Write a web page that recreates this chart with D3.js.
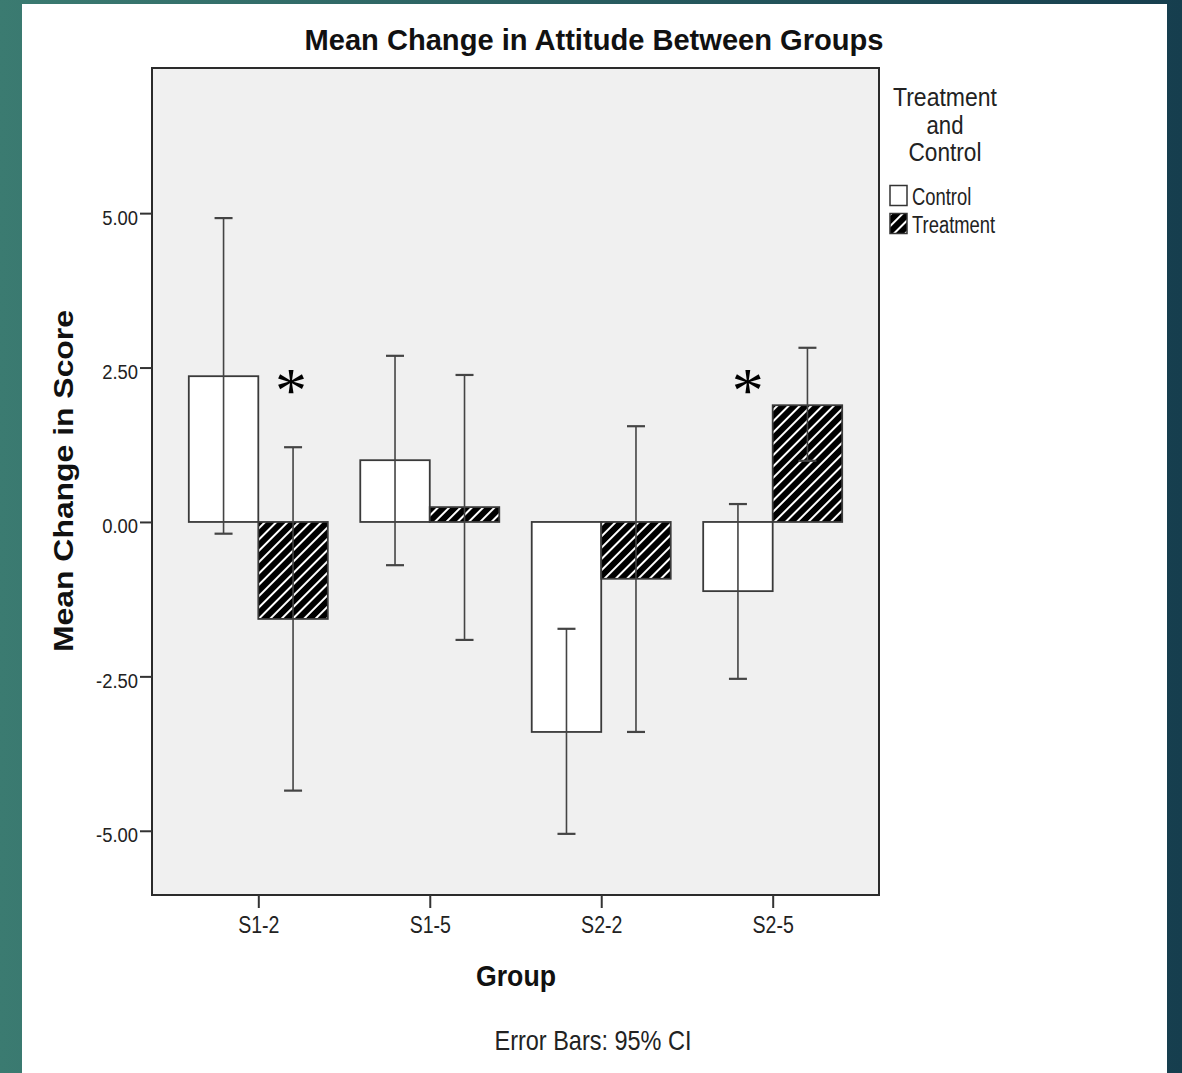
<!DOCTYPE html>
<html>
<head>
<meta charset="utf-8">
<script src="https://cdn.jsdelivr.net/npm/d3@7"></script>
<style>
  html, body { margin: 0; padding: 0; }
  body { width: 1182px; height: 1073px; overflow: hidden; }
</style>
</head>
<body>
<div id="chart"></div>
<script>
// Data
const groups = ["S1-2", "S1-5", "S2-2", "S2-5"];
const conditions = ["Control", "Treatment"];
const controlMean = [2.36, 1.00, -3.40, -1.12];
const controlLow  = [-0.19, -0.70, -5.05, -2.54];
const controlHigh = [4.92, 2.69, -1.73, 0.29];
const treatMean = [-1.57, 0.24, -0.92, 1.89];
const treatLow  = [-4.35, -1.91, -3.40, 0.99];
const treatHigh = [1.21, 2.38, 1.55, 2.82];
const yTicks = [-5, -2.5, 0, 2.5, 5];
// significance markers
const starGroups = ["S1-2", "S2-5"];
const starShift = [0.47, -0.36];   // in bar widths from group centre
const starValue = [2.25, 2.25];

const W = 1182, H = 1073;
const margin = { top: 68, right: 303, bottom: 178, left: 152 };
const width = W - margin.left - margin.right;
const height = H - margin.top - margin.bottom;

const svg = d3.select("#chart").append("svg")
  .attr("width", W)
  .attr("height", H);

// the SPSS text is a narrow face, squeeze the glyphs to get there
function squeeze(sel, f) {
  sel.each(function() {
    const n = this.getComputedTextLength();
    d3.select(this).attr("textLength", n * f).attr("lengthAdjust", "spacingAndGlyphs");
  });
}

// slide background
const defs = svg.append("defs");
const grad = defs.append("linearGradient").attr("id", "bg")
  .attr("x1", "0%").attr("x2", "100%").attr("y1", "0%").attr("y2", "0%");
grad.append("stop").attr("offset", "0%").attr("stop-color", "#3b7b71");
grad.append("stop").attr("offset", "100%").attr("stop-color", "#163e4e");
svg.append("rect").attr("width", W).attr("height", H).attr("fill", "url(#bg)");
svg.append("rect").attr("x", 22).attr("y", 4).attr("width", 1145).attr("height", H - 4)
  .attr("fill", "#ffffff");

// hatch pattern
const pat = defs.append("pattern").attr("id", "hatch")
  .attr("patternUnits", "userSpaceOnUse")
  .attr("width", 8).attr("height", 8)
  .attr("patternTransform", "rotate(45)");
pat.append("rect").attr("width", 8).attr("height", 8).attr("fill", "#000");
pat.append("rect").attr("x", 0).attr("y", 0).attr("width", 2).attr("height", 8).attr("fill", "#fff");

const g = svg.append("g")
  .attr("transform", "translate(" + margin.left + "," + margin.top + ")");

// scales
const x = d3.scalePoint().domain(groups).range([0, width]).padding(0.62);
const y = d3.scaleLinear().domain([-6.04, 7.35]).range([height, 0]);
const barW = 69.5;
const xc = d3.scaleOrdinal().domain(conditions).range([-barW, 0]);

// plot background
g.append("rect").attr("width", width).attr("height", height)
  .attr("fill", "#f0f0f0");

const rows = [];
groups.forEach(function(grp, i) {
  rows.push({ group: grp, cond: "Control", mean: controlMean[i], lo: controlLow[i], hi: controlHigh[i] });
  rows.push({ group: grp, cond: "Treatment", mean: treatMean[i], lo: treatLow[i], hi: treatHigh[i] });
});

// bars
g.append("g").selectAll("rect")
  .data(rows)
  .enter()
  .append("rect")
    .attr("x", function(d) { return x(d.group) + xc(d.cond); })
    .attr("y", function(d) { return y(Math.max(0, d.mean)); })
    .attr("width", barW)
    .attr("height", function(d) { return Math.abs(y(d.mean) - y(0)); })
    .attr("fill", function(d) { return d.cond === "Control" ? "#ffffff" : "url(#hatch)"; })
    .attr("stroke", "#3a3a3a")
    .attr("stroke-width", 1.8);

// error bars
const eb = g.append("g").selectAll("g")
  .data(rows)
  .enter()
  .append("g")
  .attr("stroke", "#444")
  .attr("stroke-width", 1.6);
const ecx = function(d) { return x(d.group) + xc(d.cond) + barW / 2; };
eb.append("line")
  .attr("x1", ecx).attr("x2", ecx)
  .attr("y1", function(d) { return y(d.hi); })
  .attr("y2", function(d) { return y(d.lo); });
eb.append("line")
  .attr("x1", function(d) { return ecx(d) - 9; })
  .attr("x2", function(d) { return ecx(d) + 9; })
  .attr("y1", function(d) { return y(d.hi); })
  .attr("y2", function(d) { return y(d.hi); })
  .attr("stroke-width", 2.2);
eb.append("line")
  .attr("x1", function(d) { return ecx(d) - 9; })
  .attr("x2", function(d) { return ecx(d) + 9; })
  .attr("y1", function(d) { return y(d.lo); })
  .attr("y2", function(d) { return y(d.lo); })
  .attr("stroke-width", 2.2);

// asterisks
g.append("g").selectAll("text")
  .data(starGroups)
  .enter()
  .append("text")
    .attr("x", function(d, i) { return x(d) + starShift[i] * barW; })
    .attr("y", function(d, i) { return y(starValue[i]); })
    .attr("dy", "0.45em")
    .attr("text-anchor", "middle")
    .style("font-family", "'Liberation Serif', 'DejaVu Serif', serif")
    .style("font-size", "64px")
    .text("*");

// frame
g.append("rect").attr("width", width).attr("height", height)
  .attr("fill", "none").attr("stroke", "#2b2b2b").attr("stroke-width", 2);

const sans = "'Liberation Sans', Arial, sans-serif";

// Y axis
const yAxis = g.append("g")
  .call(d3.axisLeft(y).tickValues(yTicks)
    .tickFormat(function(d) { return d.toFixed(2); })
    .tickSize(12).tickPadding(2));
yAxis.select(".domain").remove();
yAxis.selectAll("line").attr("stroke", "#333").attr("stroke-width", 2);
yAxis.selectAll("text")
  .attr("dy", null)
  .attr("y", 11)
  .style("font-family", sans)
  .style("font-size", "20px")
  .attr("fill", "#222")
  .call(squeeze, 0.92);

// X axis
const xAxis = g.append("g")
  .attr("transform", "translate(0," + height + ")")
  .call(d3.axisBottom(x).tickSize(13).tickPadding(5));
xAxis.select(".domain").remove();
xAxis.selectAll("line").attr("stroke", "#333").attr("stroke-width", 2);
xAxis.selectAll("text")
  .attr("dy", null)
  .attr("y", 38)
  .style("font-family", sans)
  .style("font-size", "23px")
  .attr("fill", "#222")
  .call(squeeze, 0.85);

// title
svg.append("text")
  .attr("x", 594)
  .attr("y", 50)
  .attr("text-anchor", "middle")
  .attr("textLength", 579)
  .attr("lengthAdjust", "spacingAndGlyphs")
  .style("font-family", sans)
  .style("font-weight", "bold")
  .style("font-size", "30px")
  .attr("fill", "#111")
  .text("Mean Change in Attitude Between Groups");

// axis labels
svg.append("text")
  .attr("transform", "translate(73,481) rotate(-90)")
  .attr("text-anchor", "middle")
  .attr("textLength", 342)
  .attr("lengthAdjust", "spacingAndGlyphs")
  .style("font-family", sans)
  .style("font-weight", "bold")
  .style("font-size", "28px")
  .attr("fill", "#111")
  .text("Mean Change in Score");

svg.append("text")
  .attr("x", 516)
  .attr("y", 986)
  .attr("text-anchor", "middle")
  .attr("textLength", 80)
  .attr("lengthAdjust", "spacingAndGlyphs")
  .style("font-family", sans)
  .style("font-weight", "bold")
  .style("font-size", "30px")
  .attr("fill", "#111")
  .text("Group");

svg.append("text")
  .attr("x", 593)
  .attr("y", 1050)
  .attr("text-anchor", "middle")
  .attr("textLength", 197)
  .attr("lengthAdjust", "spacingAndGlyphs")
  .style("font-family", sans)
  .style("font-size", "28px")
  .attr("fill", "#222")
  .text("Error Bars: 95% CI");

// legend
const leg = svg.append("g");
const legTitle = ["Treatment", "and", "Control"];
const legTitleLen = [104, 37, 73];
legTitle.forEach(function(t, i) {
  leg.append("text")
    .attr("x", 945)
    .attr("y", 106 + i * 27.5)
    .attr("text-anchor", "middle")
    .attr("textLength", legTitleLen[i])
    .attr("lengthAdjust", "spacingAndGlyphs")
    .style("font-family", sans)
    .style("font-size", "25px")
    .attr("fill", "#222")
    .text(t);
});
const li = leg.selectAll("g.item")
  .data(conditions)
  .enter()
  .append("g")
  .attr("class", "item")
  .attr("transform", function(d, i) { return "translate(890," + (185.5 + i * 28) + ")"; });
li.append("rect")
  .attr("width", 17).attr("height", 20)
  .attr("fill", function(d) { return d === "Control" ? "#fff" : "url(#hatch)"; })
  .attr("stroke", "#333").attr("stroke-width", 1.5);
li.append("text")
  .attr("x", 22)
  .attr("y", 19)
  .style("font-family", sans)
  .style("font-size", "23px")
  .attr("fill", "#222")
  .text(function(d) { return d; })
  .call(squeeze, 0.8);
</script>
</body>
</html>
